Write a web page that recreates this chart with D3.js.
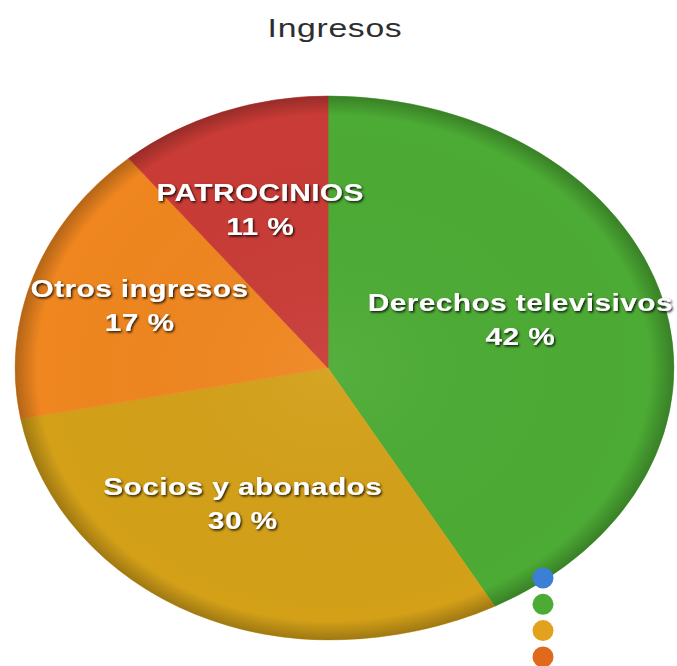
<!DOCTYPE html>
<html>
<head>
<meta charset="utf-8">
<script src="https://cdn.jsdelivr.net/npm/d3@7"></script>
<style>
body { margin: 0; background: #fff; }
</style>
</head>
<body>
<div id="graphics"></div>
<script>
var width = 677, height = 666;

// data
var labels = ["Derechos televisivos", "Socios y abonados", "Otros ingresos", "PATROCINIOS"];
var values = [42, 30, 17, 11];
var colors = ["#4cab34", "#d3a018", "#ef861f", "#c93b36"];
var legendColors = ["#3b80d6", "#4cab34", "#e2a21e", "#e0691b"];

// pie is a bit wider on the right than on the left in the picture
var cx = 328, cy = 368, rxLeft = 313, rxRight = 346, ry = 272;

var svg = d3.select('#graphics')
  .append('svg')
  .attr('width', width)
  .attr('height', height);

var defs = svg.append('defs');

// rim shading
var grad = defs.append('radialGradient').attr('id', 'rim')
  .attr('cx', '50%').attr('cy', '50%').attr('r', '50%');
grad.append('stop').attr('offset', '0%').attr('stop-color', '#fff').attr('stop-opacity', 0.05);
grad.append('stop').attr('offset', '93%').attr('stop-color', '#000').attr('stop-opacity', 0.0);
grad.append('stop').attr('offset', '100%').attr('stop-color', '#000').attr('stop-opacity', 0.25);

var shadow = defs.append('filter').attr('id', 'txtshadow')
  .attr('x', '-10%').attr('y', '-30%').attr('width', '120%').attr('height', '160%');
shadow.append('feDropShadow').attr('dx', 1).attr('dy', 1.5)
  .attr('stdDeviation', 0.9).attr('flood-color', '#000').attr('flood-opacity', 0.85);

defs.append('clipPath').attr('id', 'clipL')
  .append('rect').attr('x', -400).attr('y', -400).attr('width', 400).attr('height', 800);
defs.append('clipPath').attr('id', 'clipR')
  .append('rect').attr('x', 0).attr('y', -400).attr('width', 400).attr('height', 800);

// title
svg.append('text')
  .attr('transform', 'translate(335,37) scale(1.35,1)')
  .attr('text-anchor', 'middle')
  .style('font-family', 'Liberation Sans, Arial, sans-serif')
  .style('font-size', '25px')
  .style('letter-spacing', '0.5px')
  .attr('fill', '#2e2e2e')
  .text('Ingresos');

var pie = d3.pie().sort(null).value(function(d) { return d; });
var arcs = pie(values);

var arc = d3.arc().innerRadius(0).outerRadius(1);

function half(clip, rx) {
  var outer = svg.append('g')
    .attr('transform', 'translate(' + [cx, cy] + ')')
    .attr('clip-path', 'url(#' + clip + ')');
  var g = outer.append('g')
    .attr('transform', 'scale(' + [rx, ry] + ')');
  g.selectAll('path.slice')
    .data(arcs).enter().append('path')
    .attr('class', 'slice')
    .attr('d', arc)
    .attr('fill', function(d, i) { return colors[i]; })
    .attr('stroke', function(d, i) { return colors[i]; })
    .attr('stroke-width', 0.002);
  g.append('ellipse')
    .attr('cx', 0).attr('cy', 0).attr('rx', 1).attr('ry', 1)
    .attr('fill', 'url(#rim)');
}
half('clipL', rxLeft);
half('clipR', rxRight);

// labels
var fontFamily = 'Liberation Sans, Arial, sans-serif';
var lab = svg.selectAll('g.label')
  .data(arcs).enter().append('g')
  .attr('class', 'label')
  .attr('filter', 'url(#txtshadow)');

lab.append('text')
  .attr('class', 'name')
  .attr('y', -6)
  .attr('text-anchor', 'middle')
  .style('font-family', fontFamily)
  .style('font-size', '23px')
  .style('font-weight', 'bold')
  .style('letter-spacing', '0.3px')
  .attr('fill', '#fff')
  .text(function(d, i) { return labels[i]; });

lab.append('text')
  .attr('y', 28)
  .attr('text-anchor', 'middle')
  .style('font-family', fontFamily)
  .style('font-size', '23px')
  .style('font-weight', 'bold')
  .style('letter-spacing', '0.3px')
  .attr('fill', '#fff')
  .text(function(d) { return d.data + ' %'; });

var sx = 1.3;
lab.attr('transform', function(d) {
  var a = (d.startAngle + d.endAngle) / 2;
  var s = Math.sin(a), c = Math.cos(a);
  var x = cx + 0.64 * s * (s > 0 ? rxRight : rxLeft);
  var y = cy - 11 - 0.585 * c * ry;
  var hw = this.querySelector('text.name').getComputedTextLength() * sx / 2;
  x = Math.max(hw + 6, Math.min(width - hw - 4, x));
  return 'translate(' + [x, y] + ') scale(' + sx + ',1)';
});

// legend dots
svg.selectAll('circle.legend')
  .data(legendColors).enter().append('circle')
  .attr('class', 'legend')
  .attr('cx', 543)
  .attr('cy', function(d, i) { return 578 + i * 26.3; })
  .attr('r', 10.5)
  .attr('fill', function(d) { return d; });
</script>
</body>
</html>
